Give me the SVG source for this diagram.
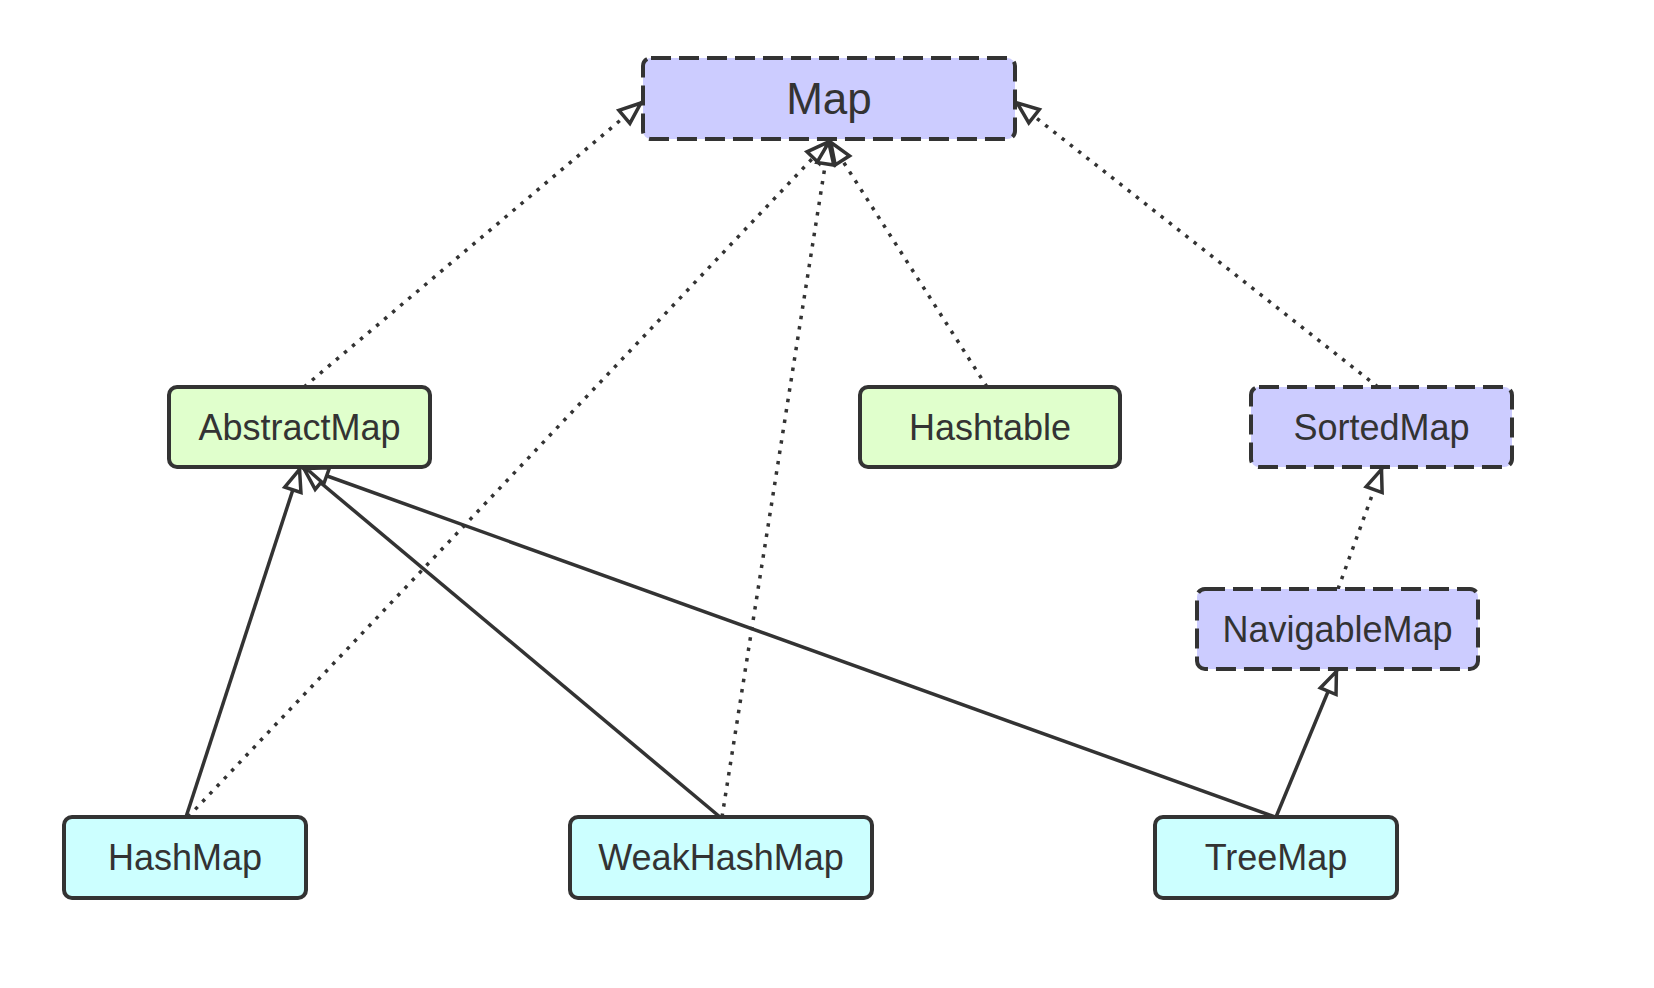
<svg xmlns="http://www.w3.org/2000/svg" width="1654" height="988" viewBox="0 0 1654 988">
<style>
.node rect{stroke:#333;stroke-width:4}
.iface rect{fill:#ccccff;stroke-dasharray:20 8}
.abs rect{fill:#e0ffcc}
.impl rect{fill:#ccffff}
.node text{font-family:"Liberation Sans",Arial,sans-serif;font-size:36px;fill:#333;text-anchor:middle}
.edges path{fill:none;stroke:#333;stroke-width:3.5;marker-end:url(#ext)}
.edges .dot{stroke-dasharray:3.5 7}
.mk{fill:#fff;stroke:#333;stroke-width:3.5;stroke-dasharray:none;stroke-linejoin:miter}
</style>
<defs>
<marker id="ext" markerUnits="userSpaceOnUse" viewBox="-32 -16 36 32" refX="0" refY="0" markerWidth="36" markerHeight="32" orient="auto">
<path class="mk" d="M-1.5,0 L-23,-8.5 L-23,8.5 Z"/>
</marker>
</defs>
<rect width="1654" height="988" fill="#fff"/>
<g class="edges">
<path class="dot" d="M304,387 L642,102"/>
<path class="dot" d="M188,817 L829,141"/>
<path class="dot" d="M722,817 L829,141"/>
<path class="dot" d="M987,387 L830,141"/>
<path class="dot" d="M1378,387 L1016,102"/>
<path class="dot" d="M1338,589 L1382,468"/>
<path d="M186,817 L300,468"/>
<path d="M720,817 L303,468"/>
<path d="M1275,817 L305,468"/>
<path d="M1276,817 L1337,670"/>
</g>
<g id="Map" class="node iface"><rect x="643" y="58" width="372" height="81" rx="8"/><text x="829" y="114" style="font-size:44px">Map</text></g>
<g id="AbstractMap" class="node abs"><rect x="169" y="387" width="261" height="80" rx="8"/><text x="299.5" y="440">AbstractMap</text></g>
<g id="Hashtable" class="node abs"><rect x="860" y="387" width="260" height="80" rx="8"/><text x="990" y="440">Hashtable</text></g>
<g id="SortedMap" class="node iface"><rect x="1251" y="387" width="261" height="80" rx="8"/><text x="1381.5" y="440">SortedMap</text></g>
<g id="NavigableMap" class="node iface"><rect x="1197" y="589" width="281" height="80" rx="8"/><text x="1337.5" y="642">NavigableMap</text></g>
<g id="HashMap" class="node impl"><rect x="64" y="817" width="242" height="81" rx="8"/><text x="185" y="870">HashMap</text></g>
<g id="WeakHashMap" class="node impl"><rect x="570" y="817" width="302" height="81" rx="8"/><text x="721" y="870">WeakHashMap</text></g>
<g id="TreeMap" class="node impl"><rect x="1155" y="817" width="242" height="81" rx="8"/><text x="1276" y="870">TreeMap</text></g>
</svg>
